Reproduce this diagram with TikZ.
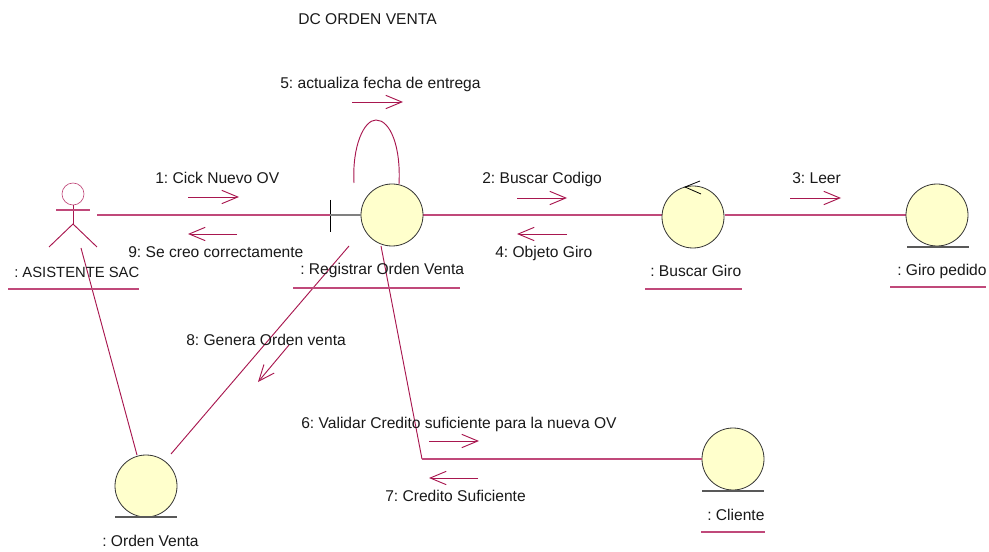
\documentclass[tikz,border=0pt]{standalone}
\usepackage{fontspec}
\setmainfont{Liberation Sans}
\usetikzlibrary{arrows.meta}
\definecolor{umlline}{HTML}{A8174F}
\definecolor{umlsoft}{HTML}{C0497A}
\definecolor{umlfill}{HTML}{FFFFCC}
\tikzset{
  x=0.75pt,y=-0.75pt,
  conn/.style={draw=umlline,line width=0.7pt},
  hconn/.style={draw=umlsoft,line width=1pt},
  msg/.style={draw=umlline,line width=0.7pt,-{Straight Barb[length=12pt,width=10pt,line width=0.7pt]}},
  obj/.style={circle,draw=black!80,fill=umlfill,line width=0.6pt,minimum size=46.5pt,inner sep=0pt},
  lbl/.style={anchor=base west,inner sep=0pt,yshift=-0.75pt,font=\fontsize{11.7pt}{13pt}\selectfont\frenchspacing,text=black!90},
  ul/.style={draw=umlsoft,line width=1pt},
  gnd/.style={draw=black!65,line width=0.8pt}
}
\begin{document}
\begin{tikzpicture}
\useasboundingbox (0,0) rectangle (989,552);
% connectors under objects
\coordinate (tickM) at (330,215);
\coordinate (aR) at (97,215);
\draw[hconn] (aR) -- (tickM);
\coordinate (regE) at (423,215);
\coordinate (bgW) at (662,215);
\coordinate (bgE) at (725,215);
\coordinate (gpW) at (906,215);
\draw[hconn] (regE) -- (bgW);
\draw[hconn] (bgE) -- (gpW);
% objects
\node[obj] (reg) at (392,215) {};
\node[obj] (bg) at (693,217) {};
\node[obj] (gp) at (937,215) {};
\node[obj] (ov) at (146,486) {};
\node[obj] (cl) at (733,459) {};
% actor
\node[circle,draw=umlsoft,line width=0.5pt,minimum size=16.5pt,inner sep=0pt] (actor) at (73,194) {};
\coordinate (hip) at (73,224);
\coordinate (armL) at (56,210);
\coordinate (armR) at (90,210);
\coordinate (legL) at (49,247);
\coordinate (legR) at (97,247);
\draw[conn] (actor.south) -- (hip);
\draw[hconn] (armL) -- (armR);
\draw[conn] (legL) -- (hip) -- (legR);
% ground lines
\coordinate (gpa) at (907,247); \coordinate (gpb) at (969,247);
\coordinate (ova) at (115,517); \coordinate (ovb) at (177,517);
\coordinate (cla) at (702,491); \coordinate (clb) at (764,491);
\draw[gnd] (gpa) -- (gpb);
\draw[gnd] (ova) -- (ovb);
\draw[gnd] (cla) -- (clb);
% boundary tick
\coordinate (tickT) at (330,200); \coordinate (tickB) at (330,232);
\draw[draw=black,line width=0.6pt] (tickT) -- (tickB);
\draw[draw=black!50,line width=1pt] (tickM) -- (reg.west);
% control arrow
\coordinate (ctlT) at (685,187); \coordinate (ctlA) at (700,181); \coordinate (ctlB) at (701,194);
\draw[draw=black,line width=0.6pt] (ctlA) -- (ctlT) -- (ctlB);
% connectors
\coordinate (loopA) at (354,183); \coordinate (loopB) at (399,184);
\draw[conn] (loopA) .. controls (352,146) and (364,120) .. (376,120) .. controls (390,120) and (401,146) .. (loopB);
\coordinate (a1) at (81,248); \coordinate (ovT) at (137,455);
\draw[conn] (a1) -- (ovT);
\coordinate (r1) at (349,246); \coordinate (ovR) at (171,454);
\draw[conn] (r1) -- (ovR);
\coordinate (r2) at (381,246); \coordinate (bend) at (422,459);
\draw[conn] (r2) -- (bend);
\draw[hconn] (bend) -- (cl.west);
% message arrows
\coordinate (m1a) at (188,197); \coordinate (m1b) at (239,197);
\coordinate (m9a) at (237,234); \coordinate (m9b) at (188,234);
\coordinate (m5a) at (352,102); \coordinate (m5b) at (403,102);
\coordinate (m2a) at (517,198); \coordinate (m2b) at (567,198);
\coordinate (m4a) at (567,234); \coordinate (m4b) at (517,234);
\coordinate (m3a) at (790,198); \coordinate (m3b) at (841,198);
\coordinate (m8a) at (289,345); \coordinate (m8b) at (258,382);
\coordinate (m6a) at (429,441); \coordinate (m6b) at (479,441);
\coordinate (m7a) at (478,478); \coordinate (m7b) at (429,478);
\foreach \p/\q in {m1a/m1b,m9a/m9b,m5a/m5b,m2a/m2b,m4a/m4b,m3a/m3b,m8a/m8b,m6a/m6b,m7a/m7b}
  \draw[msg] (\p) -- (\q);
% labels
\node[lbl] (title) at (298,24) {DC ORDEN VENTA};
\node[lbl] (t5) at (280,88) {5: actualiza fecha de entrega};
\node[lbl] (t1) at (155,183) {1: Cick Nuevo OV};
\node[lbl] (t9) at (128,257) {9: Se creo correctamente};
\node[lbl] (t2) at (482,183) {2: Buscar Codigo};
\node[lbl] (t4) at (495,257) {4: Objeto Giro};
\node[lbl] (t3) at (792,183) {3: Leer};
\node[lbl] (t8) at (186,344) {8: Genera Orden venta};
\node[lbl] (t6) at (301,427) {6: Validar Credito suficiente para la nueva OV};
\node[lbl] (t7) at (385,500) {7: Credito Suficiente};
\node[lbl,font=\fontsize{11.1pt}{13pt}\selectfont\frenchspacing] (nA) at (14,277) {: ASISTENTE SAC};
\node[lbl] (nR) at (300,274) {: Registrar Orden Venta};
\node[lbl] (nB) at (650,276) {: Buscar Giro};
\node[lbl] (nG) at (897,275) {: Giro pedido};
\node[lbl] (nO) at (102,545) {: Orden Venta};
\node[lbl] (nC) at (707,519) {: Cliente};
% name underlines
\coordinate (uAa) at (8,289); \coordinate (uAb) at (139,289);
\coordinate (uRa) at (293,288); \coordinate (uRb) at (460,288);
\coordinate (uBa) at (645,289); \coordinate (uBb) at (742,289);
\coordinate (uGa) at (890,287); \coordinate (uGb) at (986,287);
\coordinate (uCa) at (701,532); \coordinate (uCb) at (765,532);
\draw[ul] (uAa) -- (uAb);
\draw[ul] (uRa) -- (uRb);
\draw[ul] (uBa) -- (uBb);
\draw[ul] (uGa) -- (uGb);
\draw[ul] (uCa) -- (uCb);
\end{tikzpicture}
\end{document}
